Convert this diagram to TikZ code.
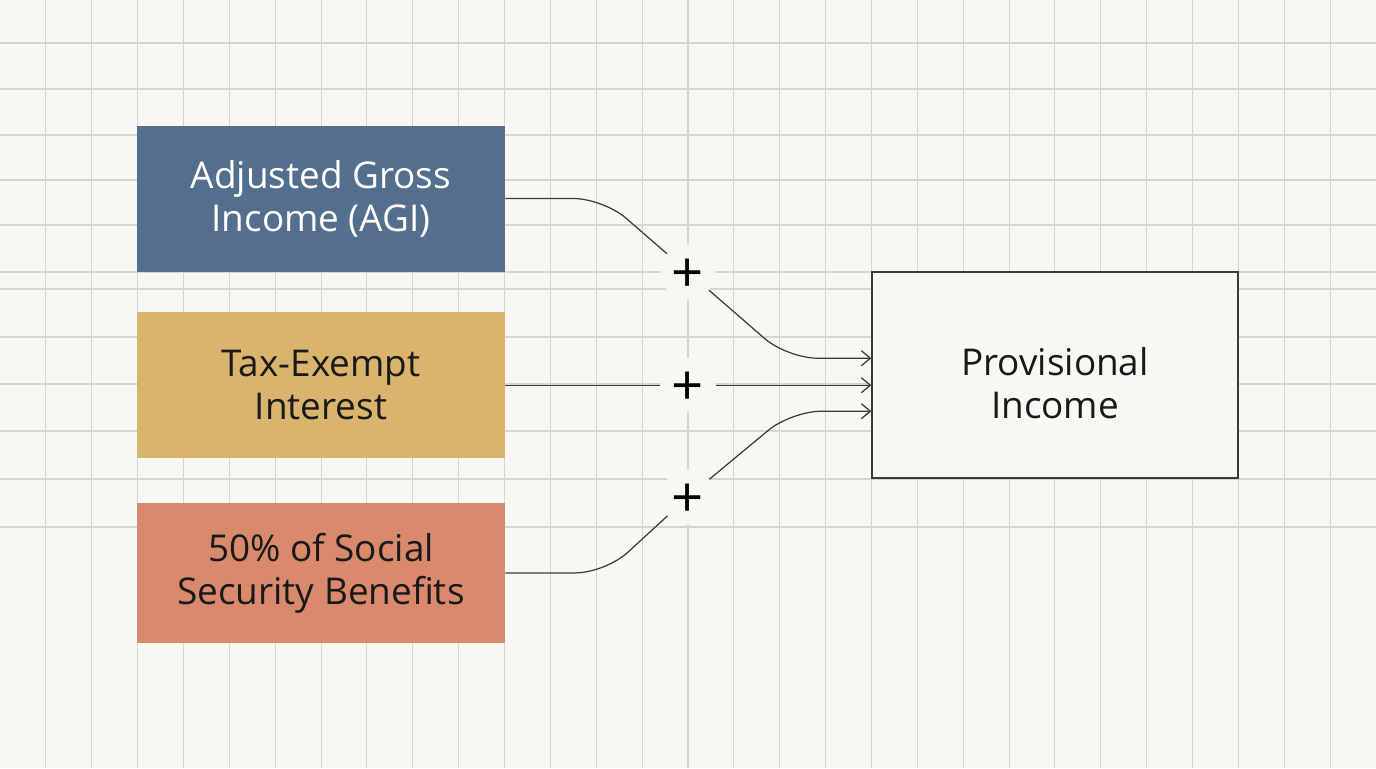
\documentclass[tikz,border=0pt]{standalone}
\usepackage{fontspec}
\setmainfont{Open Sans}
\definecolor{paper}{HTML}{F8F7F3}
\definecolor{gridline}{HTML}{D7D5D0}
\definecolor{agiblue}{HTML}{546E8D}
\definecolor{taxgold}{HTML}{D8B46C}
\definecolor{ssclay}{HTML}{D98A6C}
\definecolor{ink}{HTML}{3A3A3A}
\usetikzlibrary{positioning,arrows.meta}

\begin{document}
\begin{tikzpicture}[every node/.style={font=\fontsize{21}{24.5}\selectfont,align=center,text=black!90},
    source/.style={inner sep=0pt,minimum width=7.36cm,minimum height=2.92cm},
    plus/.style={circle,fill=paper,inner sep=0pt,minimum size=1.1cm,font=\fontsize{32}{32}\selectfont,text=black},
    wire/.style={ink,line width=0.7pt,rounded corners=0.6cm},
    link/.style={wire,-{Straight Barb[length=1.8mm,width=3mm]}}]
  \useasboundingbox[fill=paper] (0,0) rectangle (27.52,-15.36);
  \foreach \x in {1,...,29}
    \draw[gridline,line width=0.6pt] (\x*0.9173,0) -- (\x*0.9173,-15.36);
  \foreach \y in {0.86,1.78,2.70,3.60,4.50,5.44,5.78,6.74,7.68,8.62,9.58,10.54}
    \draw[gridline,line width=0.6pt] (0,-\y) -- (27.52,-\y);
  \node[source,fill=agiblue,text=white] (agi) at (6.42,-3.97) {Adjusted Gross\\Income (AGI)};
  \node[source,fill=taxgold,below=8mm of agi] (tax) {Tax-Exempt\\Interest};
  \node[source,fill=ssclay,below=8.8mm of tax,minimum height=2.8cm] (ss) {50\% of Social\\Security Benefits};
  \node[draw=ink,fill=paper,line width=0.8pt,minimum width=7.32cm,minimum height=4.12cm] (prov) at (21.1,-7.5)
    {\rule{0pt}{0.9cm}Provisional\\Income};
  \node[plus] (p1) at (13.76,-5.44) {\raisebox{-0.08cm}[\height][\depth]{+}};
  \node[plus] (p2) at (p1 |- tax) {\raisebox{-0.08cm}[\height][\depth]{+}};
  \node[plus] (p3) at (13.76,-9.94) {\raisebox{-0.08cm}[\height][\depth]{+}};
  \coordinate (in2) at (prov.west |- tax);
  \coordinate (in1) at ([yshift=5.4mm]in2);
  \coordinate (in3) at ([yshift=-5.2mm]in2);
  \draw[wire] (agi.east) -- ++(1.96,0) -- (p1);
  \draw[link] (p1) -- ([xshift=-1.68cm]in1) -- (in1);
  \draw[wire] (tax.east) -- (p2);
  \draw[link] (p2) -- (in2);
  \draw[wire] (ss.east) -- ++(2.0,0) -- (p3);
  \draw[link] (p3) -- ([xshift=-1.6cm]in3) -- (in3);
\end{tikzpicture}
\end{document}
